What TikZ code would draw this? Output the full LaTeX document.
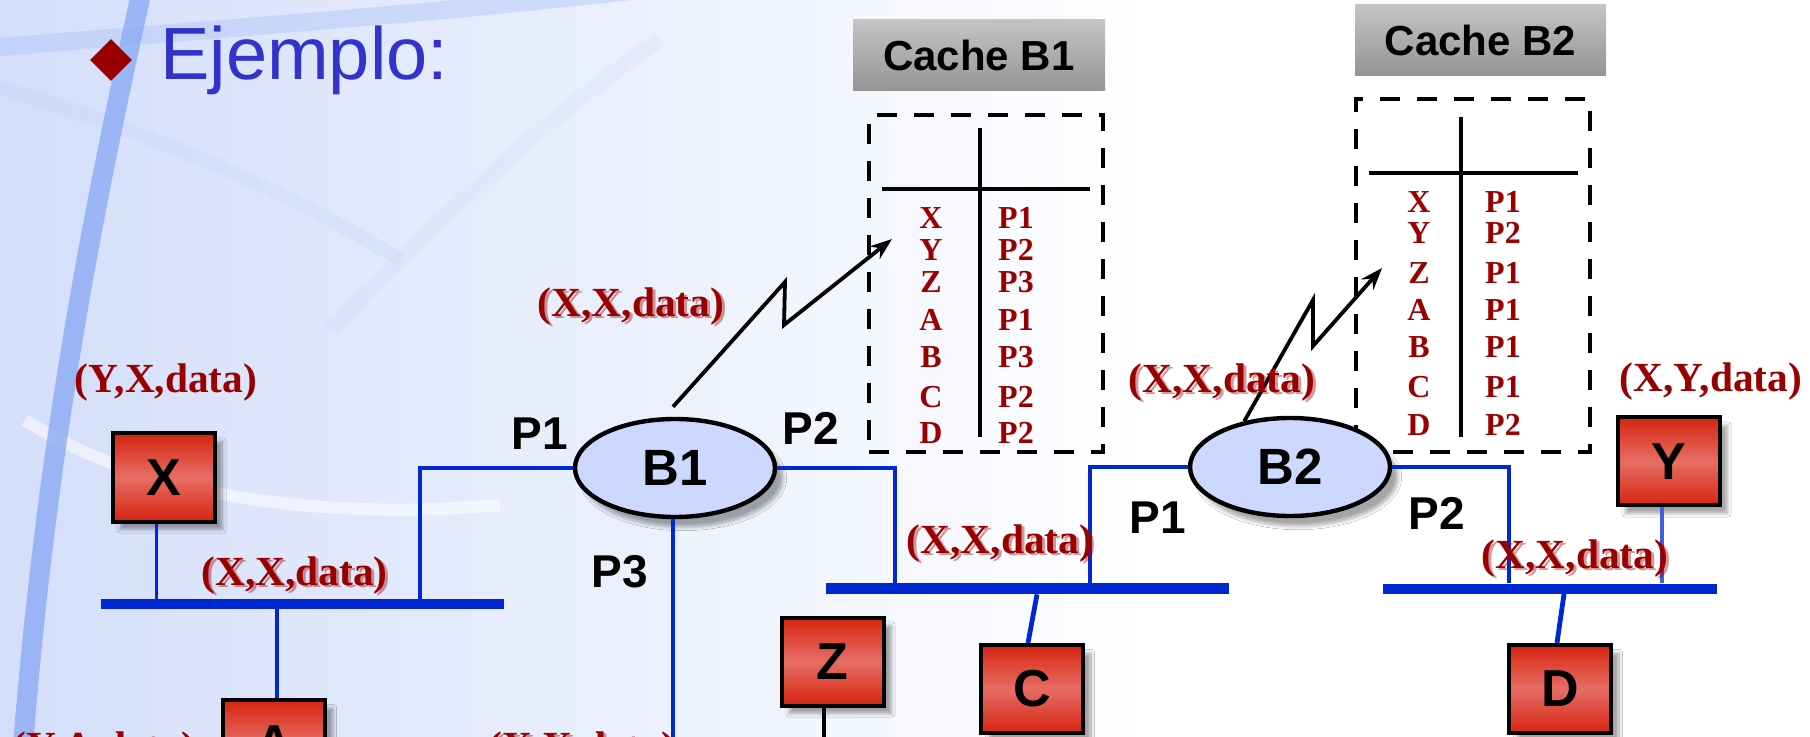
\documentclass[tikz,border=0pt]{standalone}
\usepackage{fontspec}
\setmainfont{Liberation Serif}
\newfontfamily\arialfont{Liberation Sans}
\newfontfamily\timesfont{Liberation Serif}
\usetikzlibrary{shapes.geometric,arrows.meta,shadows.blur}

\definecolor{titleblue}{RGB}{51,51,204}
\definecolor{darkred}{RGB}{153,0,0}
\definecolor{lanblue}{RGB}{0,40,210}
\definecolor{boxred}{RGB}{214,36,16}
\definecolor{boxredlight}{RGB}{230,110,100}
\definecolor{bridgefill}{RGB}{204,216,255}
\definecolor{bgblue}{RGB}{212,222,250}
\definecolor{curveblue}{RGB}{140,170,245}
\definecolor{graytop}{RGB}{196,196,196}
\definecolor{graybot}{RGB}{148,148,148}

\newcommand\pktlabel[3]{%
  \node[pkt, text opacity=0.4] (#1g) at ([xshift=1.5pt,yshift=-1pt]#2) {#3};
  \node[pkt] (#1) at (#2) {#3};}

\begin{document}
\begin{tikzpicture}[x=0.5pt,y=-0.5pt,
  hostbox/.style={draw=black, line width=2pt, top color=boxred, bottom color=boxred,
    middle color=boxredlight, minimum width=51pt, minimum height=44pt, inner sep=0pt,
    font=\arialfont\bfseries\fontsize{26}{26}\selectfont,
    blur shadow={shadow xshift=4pt, shadow yshift=-4pt, shadow blur steps=8, shadow opacity=35}},
  bridge/.style={ellipse, draw=black, line width=2.2pt, fill=bridgefill, minimum width=100pt,
    minimum height=49pt, inner sep=0pt, font=\arialfont\bfseries\fontsize{25.5}{25.5}\selectfont,
    blur shadow={shadow xshift=4pt, shadow yshift=-5pt, shadow blur steps=8, shadow opacity=35}},
  bus/.style={fill=lanblue, inner sep=0pt, minimum height=5pt},
  lan/.style={draw=lanblue, line width=2.4pt},
  portlbl/.style={font=\arialfont\bfseries\fontsize{23}{23}\selectfont, anchor=base, inner sep=0pt},
  pkt/.style={font=\timesfont\bfseries\fontsize{20.7}{20.7}\selectfont, text=darkred, anchor=base, inner sep=0pt},
  entry/.style={font=\timesfont\bfseries\fontsize{16}{16}\selectfont, text=darkred, anchor=base, inner sep=0pt},
  cachebox/.style={draw=black, line width=2.2pt, dash pattern=on 10pt off 8.5pt, inner sep=0pt},
  header/.style={top color=graytop, bottom color=graybot, inner sep=0pt, minimum height=35.5pt,
    font=\arialfont\bfseries\fontsize{21}{21}\selectfont},
  tbl/.style={draw=black, line width=2.3pt},
  zig/.style={draw=black, line width=1.9pt, -{Stealth[length=11pt,width=8pt]}}
]
\useasboundingbox (0,0) rectangle (1810,737);
\clip (0,0) rectangle (1810,737);

% background
\fill[white] (0,0) rectangle (1810,737);
\shade[left color=bgblue, right color=white] (0,0) rectangle (1150,737);
\draw[curveblue!70, line width=9pt, opacity=0.45] (-10,48) .. controls (200,30) and (420,15) .. (640,-10);
\draw[curveblue!60, line width=7pt, opacity=0.22] (-10,85) .. controls (130,125) and (280,185) .. (400,260);
\draw[curveblue!50, line width=8pt, opacity=0.18] (330,330) .. controls (430,230) and (540,120) .. (660,40);
\draw[white, line width=6pt, opacity=0.55] (25,420) .. controls (150,500) and (330,520) .. (500,505);
\draw[curveblue, line width=10pt, opacity=0.8] (142,-10) .. controls (95,200) and (45,450) .. (22,760);

% title
\node[diamond, fill=darkred, minimum width=21pt, minimum height=21pt, inner sep=0pt] (bullet) at (111,60) {};
\node[anchor=base west, inner sep=0pt, text=titleblue, font=\arialfont\fontsize{37}{37}\selectfont] (title) at (160,80) {Ejemplo:};

% cache headers
\node[header, minimum width=126pt] (hdr1) at (979,55.5) {Cache B1};
\node[header, minimum width=125.5pt] (hdr2) at (1480.5,40.5) {Cache B2};

% cache boxes
\node[cachebox, minimum width=117pt, minimum height=168.5pt] (cache1) at (986,283.5) {};
\node[cachebox, minimum width=117pt, minimum height=176.5pt] (cache2) at (1473,275.5) {};
\draw[tbl] (882,189) -- (1090,189);
\draw[tbl] (980,128) -- (980,437);
\draw[tbl] (1369,173) -- (1578,173);
\draw[tbl] (1461,117) -- (1461,437);
\foreach \l/\p/\yy [count=\i] in {X/P1/218, Y/P2/250, Z/P3/282, A/P1/320, B/P3/357, C/P2/397, D/P2/433}{
  \node[entry] (ba\i) at (931,\yy+11) {\l};
  \node[entry] (bb\i) at (1016,\yy+11) {\p};
}
\foreach \l/\p/\yy [count=\i] in {X/P1/202, Y/P2/233, Z/P1/273, A/P1/310, B/P1/347, C/P1/387, D/P2/425}{
  \node[entry] (ca\i) at (1419,\yy+11) {\l};
  \node[entry] (cb\i) at (1503,\yy+11) {\p};
}

% buses
\node[bus, minimum width=201.5pt] (bus1) at (302.5,604) {};
\node[bus, minimum width=201.5pt, minimum height=5.5pt] (bus2) at (1027.5,588.5) {};
\node[bus, minimum width=167pt] (bus3) at (1550,588.5) {};

% bridges
\node[bridge] (B1) at (675,468) {B1};
\node[bridge] (B2) at (1290,467) {B2};

% hosts
\node[hostbox] (X) at (163.5,477.5) {X};
\node[hostbox] (A) at (274,744) {A};
\node[hostbox] (Z) at (832.5,661.5) {Z};
\node[hostbox] (C) at (1032,689) {C};
\node[hostbox] (Y) at (1668.5,461.5) {Y};
\node[hostbox] (D) at (1560,689) {D};

% connectors
\coordinate (t1) at (420,604);
\coordinate (t2) at (895,588);
\coordinate (t3) at (1090,588);
\coordinate (t4) at (1509,588);
\coordinate (p3end) at (673,745);
\coordinate (zend) at (824,745);
\draw[lan] (B1.west) -| (t1 |- bus1.north);
\draw[lan, line width=1.8pt] ([xshift=-3.5pt]X.south) -- ([xshift=-3.5pt]X.south |- bus1.north);
\draw[lan] ([xshift=1.5pt]A.north) -- ([xshift=1.5pt]A.north |- bus1.south);
\draw[lan] ([xshift=-1pt]B1.south) -- ([xshift=-1pt]B1.south |- p3end);
\draw[lan] (B1.east) -| (t2 |- bus2.north);
\draw[lan] (B2.west) -| (t3 |- bus2.north);
\draw[lan] ([xshift=4.75pt]bus2.south) -- ([xshift=-2pt]C.north);
\draw[lan] (B2.east) -| (t4 |- bus3.north);
\draw[lan, line width=1.6pt, draw=lanblue!75] ([xshift=-3.25pt]Y.south) -- ([xshift=-3.25pt]Y.south |- bus3.north);
\draw[lan] ([xshift=7pt]bus3.south) -- ([xshift=-1.5pt]D.north);
\draw[black, line width=1.6pt] ([xshift=-4.25pt]Z.south) -- ([xshift=-4.25pt]Z.south |- zend);

% zigzag arrows
\coordinate (k1) at (785,282);
\coordinate (k2) at (784,325);
\coordinate (tip1) at (892,239);
\coordinate (m1) at (1313,300);
\coordinate (m2) at (1313,346);
\coordinate (tip2) at (1382,268);
\draw[zig] ([yshift=5pt,xshift=-1pt]B1.north) -- (k1) -- (k2) -- (tip1);
\draw[zig] (B2.135) -- (m1) -- (m2) -- (tip2);

% port labels
\node[portlbl] (p1a) at (540,450) {P1};
\node[portlbl] (p2a) at (811,445) {P2};
\node[portlbl] (p3a) at (620,587) {P3};
\node[portlbl] (p1b) at (1158,533) {P1};
\node[portlbl] (p2b) at (1437,530) {P2};

% packet labels
\node[pkt] (yxd) at (166,393) {(Y,X,data)};
\node[pkt] (xyd) at (1711,392) {(X,Y,data)};
\pktlabel{lb1}{294.5,585}{(X,X,data)}
\pktlabel{lz1}{631,317}{(X,X,data)}
\pktlabel{lz2}{1222,393}{(X,X,data)}
\pktlabel{lb2}{1000,553}{(X,X,data)}
\pktlabel{lb3}{1575,568}{(X,X,data)}
\pktlabel{lbot}{582,760}{(X,X,data)}
\node[pkt] (yad) at (104,760) {(Y,A,data)};
\end{tikzpicture}
\end{document}
